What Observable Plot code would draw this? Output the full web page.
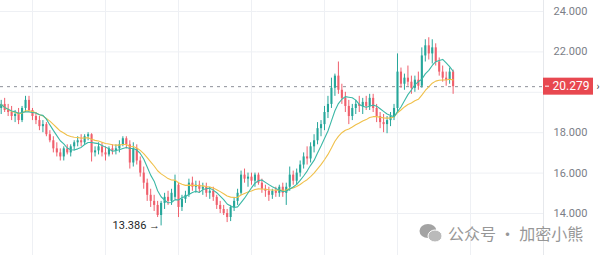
<!DOCTYPE html>
<html>
<head>
<meta charset="utf-8">
<script src="https://cdn.jsdelivr.net/npm/d3@7"></script>
<script src="https://cdn.jsdelivr.net/npm/@observablehq/plot@0.6"></script>
<style>
  html, body { margin: 0; padding: 0; background: #fff; overflow: hidden; }
  #wrap { position: relative; width: 600px; height: 255px; }
  #wm { position: absolute; left: 419px; top: 221px; font-family: "Noto Sans CJK SC", sans-serif;
        font-size: 16px; color: #8c8c8c; white-space: nowrap; display: flex; align-items: center; opacity: 0.9; }
  #wm svg { margin-right: 5px; }
</style>
</head>
<body>
<div id="wrap"></div>
<script>
// ---- data ----
const open = [19.2,19.4,19.1,19.0,18.8,18.9,18.6,19.2,19.6,19.1,18.8,18.6,18.3,18.4,17.9,17.6,17.2,17.0,16.8,17.2,
  17.0,17.3,17.5,17.6,17.5,17.8,17.9,17.0,17.1,17.3,17.0,16.9,17.2,17.1,17.2,17.4,17.7,17.4,16.5,17.2,
  16.6,16.0,15.5,14.9,14.6,14.4,13.9,14.5,14.8,14.6,14.8,15.4,14.3,14.7,14.9,15.5,15.3,15.4,15.2,15.3,
  15.0,15.1,14.8,14.4,14.2,14.0,13.8,14.3,14.6,15.0,15.9,15.7,15.8,15.6,15.9,15.5,15.2,15.1,14.9,15.1,
  15.0,15.3,15.0,15.3,15.9,15.6,16.0,16.4,16.8,16.7,17.3,17.6,18.2,18.4,19.0,19.4,20.2,20.8,20.1,19.7,
  19.3,18.8,19.2,19.4,19.3,19.5,19.3,19.7,19.2,18.8,18.5,18.4,18.6,18.8,19.2,21.0,20.4,20.7,20.5,20.2,
  20.6,20.3,21.8,22.3,21.9,22.2,21.5,21.0,20.7,20.6,21.0];
const high = [19.6,19.7,19.4,19.3,19.1,19.2,19.3,19.8,19.8,19.2,19.0,18.8,18.6,18.5,18.1,17.8,17.5,17.2,17.3,17.4,
  17.4,17.6,17.8,17.9,17.9,18.0,17.95,17.3,17.5,17.5,17.3,17.3,17.4,17.4,17.6,17.8,17.8,17.6,17.5,17.4,
  16.8,16.3,15.7,15.2,14.9,14.6,14.6,15.0,15.1,15.2,15.9,15.5,14.9,15.1,15.7,15.8,15.6,15.6,15.5,15.5,
  15.3,15.3,14.9,14.6,14.4,14.2,14.4,14.8,15.2,16.1,16.2,16.0,16.0,16.0,16.0,15.7,15.4,15.3,15.2,15.3,
  15.4,15.5,15.5,16.3,16.1,16.2,16.6,17.0,17.3,17.5,17.9,18.5,18.6,19.3,19.8,20.7,20.9,21.5,20.4,20.0,
  19.6,19.4,19.6,19.8,19.7,19.8,19.9,19.9,19.4,19.0,18.9,18.8,19.0,19.4,21.9,21.2,20.9,21.3,20.8,20.8,
  21.0,22.2,22.6,22.7,22.6,22.4,21.7,21.3,21.0,21.2,21.1];
const low = [18.9,19.0,18.8,18.6,18.5,18.4,18.5,19.0,19.0,18.6,18.4,18.1,18.0,17.8,17.5,17.0,16.8,16.6,16.6,16.9,
  16.8,17.1,17.3,17.3,17.4,17.6,16.55,16.8,16.9,16.8,16.6,16.8,16.9,16.9,17.0,17.3,17.2,16.2,16.3,16.4,
  15.8,15.2,14.6,14.3,14.1,13.8,13.386,14.2,14.4,14.4,14.7,13.8,14.1,14.5,14.8,15.1,15.0,15.0,14.9,14.8,
  14.7,14.6,14.2,14.0,13.9,13.55,13.6,14.1,14.4,14.9,15.5,15.3,15.4,15.3,15.4,15.0,14.8,14.6,14.7,14.8,
  14.8,14.8,14.4,15.1,15.4,15.4,15.8,16.2,16.4,16.5,17.0,17.4,17.8,18.1,18.7,19.2,19.8,19.9,19.4,19.0,
  18.4,18.6,18.9,19.0,18.9,19.1,19.1,19.0,18.5,18.2,18.0,17.95,18.3,18.6,19.0,20.2,20.1,20.3,19.9,20.0,
  20.1,20.2,21.5,21.6,21.4,21.3,20.8,20.5,20.3,20.4,19.9];
const close = [19.4,19.1,19.0,18.8,18.9,18.6,19.2,19.6,19.1,18.8,18.6,18.3,18.4,17.9,17.6,17.2,17.0,16.8,17.2,17.0,
  17.3,17.5,17.6,17.5,17.8,17.9,17.0,17.1,17.3,17.0,16.9,17.2,17.1,17.2,17.4,17.7,17.4,16.5,17.2,16.6,
  16.0,15.5,14.9,14.6,14.4,13.9,14.5,14.8,14.6,15.0,15.6,14.3,14.7,14.9,15.5,15.3,15.4,15.2,15.3,15.0,
  15.1,14.8,14.4,14.2,14.0,13.8,14.3,14.6,15.0,15.9,15.7,15.8,15.6,15.9,15.5,15.2,15.1,14.9,15.1,15.0,
  15.3,15.0,15.3,15.9,15.6,16.0,16.4,16.8,16.7,17.3,17.6,18.2,18.4,19.0,19.4,20.2,20.8,20.1,19.7,19.3,
  18.8,19.2,19.4,19.3,19.5,19.3,19.7,19.2,18.8,18.5,18.4,18.6,18.8,19.2,21.0,20.4,20.7,20.5,20.2,20.6,
  20.3,21.8,22.3,21.9,22.2,21.5,21.0,20.7,20.6,21.0,20.279];
const yGridTicks = [14, 16, 18, 20, 22, 24];
const yAxisLabels = [14, 16, 18, 22, 24];   // 20.000 is hidden behind the price tag
const xGridTicks = [9, 30, 51, 72, 93, 114, 135];
const lowLabel = {i: 46, v: 13.386};
const lastClose = close[close.length - 1];
const xDomain = [-0.2, 156];

const rows = close.map((c, i) => ({i, o: open[i], h: high[i], l: low[i], c, up: c >= open[i]}));
const UP = "#26a69a", DOWN = "#ef5f6c";

// exponential moving average reducer for Plot's window transform
const ema = (n) => (values) => {
  const a = 2 / (n + 1);
  let w = 1, s = 0, ws = 0;
  for (let j = values.length - 1; j >= 0; --j) { s += w * values[j]; ws += w; w *= (1 - a); }
  return s / ws;
};

const chart = Plot.plot({
  width: 600, height: 255,
  marginLeft: 0, marginRight: 57, marginTop: 11, marginBottom: 42,
  style: {background: "transparent", fontFamily: "Roboto, 'Liberation Sans', sans-serif", overflow: "visible"},
  x: {domain: xDomain, axis: null},
  y: {domain: [14, 24], axis: null},
  marks: [
    Plot.gridY(yGridTicks, {stroke: "#eef0f4", strokeOpacity: 1}),
    Plot.ruleX(xGridTicks, {stroke: "#eef0f4", insetTop: -11, insetBottom: -42}),
    Plot.ruleX([xDomain[1]], {stroke: "#e6e8ec", insetTop: -11, insetBottom: -42}),
    Plot.axisY(yAxisLabels, {anchor: "right", tickSize: 0, tickPadding: 10, label: null,
      tickFormat: d => d.toFixed(3), fill: "#7b7e87", fontSize: 11}),
    Plot.ruleY([lastClose], {stroke: "#8e9099", strokeDasharray: "3,4", strokeWidth: 1}),
    Plot.ruleX(rows, {x: "i", y1: "l", y2: "h", stroke: d => d.up ? UP : DOWN, strokeWidth: 1}),
    Plot.ruleX(rows, {x: "i", y1: "o", y2: "c", stroke: d => d.up ? UP : DOWN, strokeWidth: 2.1}),
    Plot.lineY(rows, Plot.windowY({k: 60, anchor: "end", strict: false, reduce: ema(20)}, {x: "i", y: "c", stroke: "#f0c04a", strokeWidth: 1.1})),
    Plot.lineY(rows, Plot.windowY({k: 7, anchor: "end", strict: false}, {x: "i", y: "c", stroke: "#3bb8a6", strokeWidth: 1.1})),
    Plot.text([lowLabel], {x: "i", y: "v", text: d => `${d.v.toFixed(3)} →`, textAnchor: "end", dx: -1, fontSize: 11, fill: "#1d1f26"})
  ]
});

document.getElementById("wrap").appendChild(chart);

// price tag on the right axis
const yy = chart.scale("y").apply(lastClose);
const g = d3.select(chart).append("g");
g.append("rect").attr("x", 543).attr("y", yy - 8.5).attr("width", 50).attr("height", 17).attr("fill", "#e84850");
g.append("line").attr("x1", 545).attr("x2", 549).attr("y1", yy).attr("y2", yy).attr("stroke", "#fff");
g.append("text").attr("x", 571).attr("y", yy).attr("dy", "0.35em").attr("text-anchor", "middle")
  .attr("fill", "#fff").attr("font-size", 12).attr("font-family", "Roboto, sans-serif").text(lastClose.toFixed(3));
g.append("text").attr("x", 598).attr("y", yy).attr("dy", "0.35em").attr("text-anchor", "middle")
  .attr("fill", "#444").attr("font-size", 10).text("›");

// watermark
const wm = document.createElement("div");
wm.id = "wm";
wm.innerHTML = '<svg width="24" height="20" viewBox="0 0 24 20"><ellipse cx="9" cy="8" rx="8.5" ry="7" fill="#9a9a9a"/><ellipse cx="16" cy="13" rx="7" ry="6" fill="#b3b3b3" stroke="#fff" stroke-width="1"/></svg><span>公众号 · 加密小熊</span>';
document.getElementById("wrap").appendChild(wm);
</script>
</body>
</html>
